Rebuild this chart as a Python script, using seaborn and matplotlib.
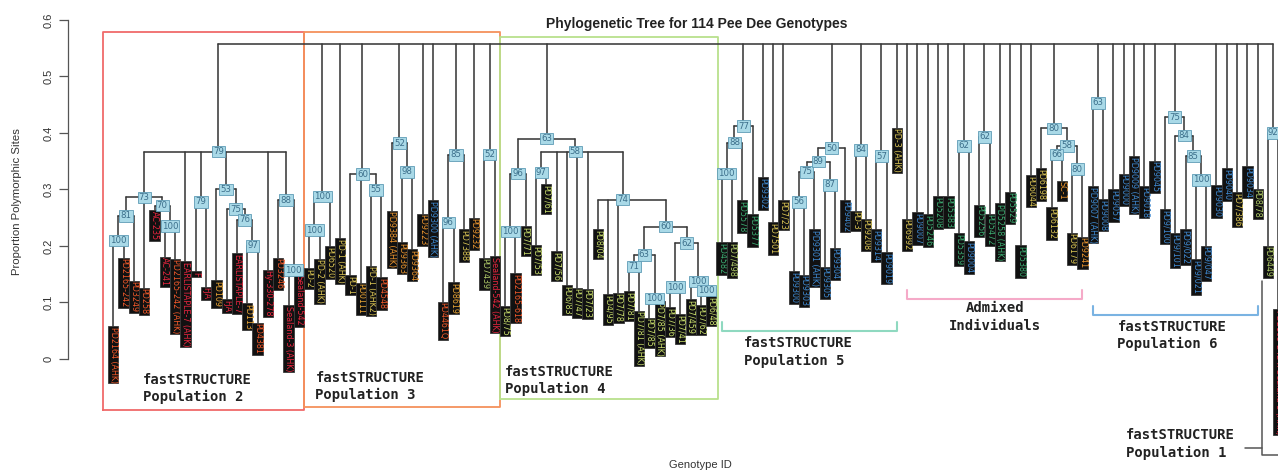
import numpy as np
import pandas as pd
import matplotlib
matplotlib.use("Agg")
import matplotlib.pyplot as plt
import seaborn as sns

sns.set_theme(style="white")
plt.rcParams['font.family'] = ['Liberation Sans', 'DejaVu Sans']

# ---------------- data ----------------
leaf_names = [
    # fastSTRUCTURE population 2
    "PD2164 (AHK)", "PD2165-242", "PD3249", "PD258", "AC-235", "AC-241", "PD2165-242 (AHK)",
    "EARLISTAPLE-7 (AHK)", "F", "FJA", "PD109", "FJA", "EARLISTAPLE-7", "PD113", "PD4381",
    "Hy-330-278", "PD3246", "Sealand-3 (AHK)", "Sealand-542",
    # population 3
    "PD-2", "PD-2 (AHK)", "PD6520", "PD-1 (AHK)", "PD-1", "PD0111", "PD-1 (AHK2)", "PD4548",
    "PD9384 (AHK)", "PD9363", "PD9364", "PD9223", "PD9300 (AHK)", "PD4461Q", "PD8619", "PD7388",
    "PD9232", "PD7439", "Sealand-542 (AHK)",
    # population 4
    "PD8/75", "PD2165-618", "PD7/71", "PD7/53", "PD7/61", "PD7/56", "PD6/83", "PD7/47", "PD7/23",
    "PD8/04", "PD4/95", "PD7/78", "PD7/81", "PD7/81 (AHK)", "PD7/85", "PD7/85 (AHK)", "PD7/36",
    "PD7/41", "PD7/459", "PD7/62", "PD6/48",
    # population 5
    "PD4582", "PD7/498", "PD5578", "PD5377", "PD9302", "PD7501", "PD7/23", "PD9300", "PD9303",
    "PD9301 (AHK)", "PD9305", "PD9304", "PD9402", "PD-3", "PD9208", "PD9314", "PD9019", "PD-3 (AHK)",
    # admixed
    "PD6992", "PD9007", "PD5246", "PD5208", "PD5383", "PD5359", "PD9004", "PD5256", "PD5472",
    "PD5258 (AHK)", "PD5529", "PD5380", "PD6044", "PD6198", "PD6132", "SC-1", "PD6179", "PD9241",
    # population 6
    "PD9007 (AHK)", "PD9008", "PD9057", "PD9000", "PD9009 (AHK)", "PD9018", "PD9045", "PD9/100",
    "PD9/101", "PD9/022", "PD9/021", "PD9/047", "PD9030", "PD9040", "PD7/386", "PD9034", "PD8/78",
    "PD6449",
    # population 1 (cut off at right edge, as in the source figure)
    "PD2165-242 x Sealand-3 (AHK)",
]

leaf_tip = [
    0.057, 0.178, 0.137, 0.125, 0.262, 0.180, 0.176, 0.172, 0.154, 0.127, 0.138, 0.104, 0.186,
    0.098, 0.063, 0.157, 0.178, 0.094, 0.148,
    0.159, 0.176, 0.198, 0.212, 0.147, 0.134, 0.164, 0.143, 0.261, 0.206, 0.193, 0.256, 0.280,
    0.100, 0.135, 0.228, 0.249, 0.178, 0.181,
    0.092, 0.151, 0.234, 0.200, 0.308, 0.190, 0.129, 0.125, 0.123, 0.228, 0.113, 0.116, 0.119,
    0.084, 0.072, 0.101, 0.090, 0.078, 0.104, 0.094, 0.110,
    0.205, 0.205, 0.280, 0.255, 0.320, 0.241, 0.280, 0.154, 0.148, 0.228, 0.162, 0.196, 0.280,
    0.261, 0.247, 0.228, 0.188, 0.408,
    0.247, 0.258, 0.255, 0.287, 0.287, 0.221, 0.207, 0.272, 0.256, 0.274, 0.295, 0.200, 0.324,
    0.336, 0.267, 0.314, 0.222, 0.215,
    0.305, 0.282, 0.299, 0.327, 0.358, 0.305, 0.350, 0.264, 0.221, 0.228, 0.175, 0.199, 0.306,
    0.336, 0.294, 0.340, 0.300, 0.199,
    0.087,
]

leaf_colour = (
    ["O", "O", "O", "O", "R", "R", "O", "R", "R", "R", "Y", "R", "R", "Y", "O", "R", "O", "R", "R"]
    + ["Y2", "Y2", "Y2", "Y2", "Y2", "Y", "Y2", "O", "O2", "O2", "O2", "O2", "B", "O", "Y", "Y2",
       "O2", "YG", "R"]
    + ["G4", "O"] + ["G4"] * 19
    + ["GR", "YG", "GR", "GR", "B", "Y2", "Y2", "B", "B", "B", "B", "B", "B", "Y2", "Y2", "B", "B", "Y2"]
    + ["Y2", "B", "GR", "GR", "GR", "GR", "B", "GR", "GR", "GR", "GR", "GR", "Y2", "Y2", "Y2", "O2",
       "Y2", "O2"]
    + ["B"] * 14 + ["Y2", "B", "YG", "YG"]
    + ["R"]
)

leaf_parent = (
    ["p2_100a", "p2_100a", "p2_81", "p2_73", "p2_70", "p2_100b", "p2_100b", "p2_79", "p2_79b",
     "p2_79b", "p2_53", "p2_75", "p2_76", "p2_97", "p2_97", "p2_79", "p2_88", "p2_100c", "p2_100c"]
    + ["p3_100a", "p3_100a", "p3_100b", "root", "p3_60", "p3_60", "p3_55", "p3_55", "p3_52",
       "p3_98", "p3_98", "root", "root", "p3_96", "p3_96", "p3_85", "root", "p3_52b", "p3_52b"]
    + ["p4_100a", "p4_100a", "p4_96", "p4_97", "p4_97", "p4_58", "p4_58", "p4_58", "p4_58",
       "p4_74", "p4_74", "p4_74", "p4_71", "p4_71", "p4_100b", "p4_100b", "p4_100c", "p4_100c",
       "p4_100d", "p4_100e", "p4_100e"]
    + ["p5_100", "p5_100", "p5_88", "p5_77", "root", "root", "root", "p5_56", "p5_56", "p5_75",
       "p5_87", "p5_87", "p5_50", "p5_84", "p5_84", "p5_57", "p5_57", "root"]
    + ["root", "root", "root", "root", "root", "ad_62a", "ad_62a", "ad_62b", "ad_62b", "root",
       "root", "root", "root", "ad_80", "ad_66", "ad_66", "ad_80b", "ad_80b"]
    + ["p6_63", "p6_63", "root", "root", "root", "root", "root", "p6_75", "p6_84", "p6_85",
       "p6_100", "p6_100", "root", "root", "root", "root", "root", "p1_92"]
    + ["p1_92"]
)

node_names = [
    "root",
    "p2_100a", "p2_81", "p2_73", "p2_70", "p2_100b", "p2_79", "p2_79b", "p2_53", "p2_75", "p2_76",
    "p2_97", "p2_88", "p2_100c",
    "p3_100a", "p3_100b", "p3_60", "p3_55", "p3_52", "p3_98", "p3_85", "p3_96", "p3_52b",
    "p4_63", "p4_96", "p4_100a", "p4_58", "p4_97", "p4_74", "p4_60", "p4_63b", "p4_71", "p4_100b",
    "p4_62", "p4_100c", "p4_100d", "p4_100e",
    "p5_100", "p5_88", "p5_77", "p5_56", "p5_75", "p5_87", "p5_89", "p5_50", "p5_84", "p5_57",
    "ad_62a", "ad_62b", "ad_80", "ad_58", "ad_66", "ad_80b",
    "p6_63", "p6_75", "p6_84", "p6_85", "p6_100", "p1_92",
]
node_parent = [
    None,
    "p2_81", "p2_73", "p2_79", "p2_73", "p2_70", "root", "p2_79", "p2_79", "p2_53", "p2_75",
    "p2_76", "p2_79", "p2_88",
    "p3_100b", "root", "root", "p3_60", "root", "p3_52", "root", "p3_85", "root",
    "root", "p4_63", "p4_96", "p4_63", "p4_58", "p4_58", "p4_74", "p4_60", "p4_63b", "p4_63b",
    "p4_60", "p4_62", "p4_62", "p4_100d",
    "p5_88", "p5_77", "root", "p5_75", "p5_89", "p5_89", "p5_50", "root", "root", "root",
    "root", "root", "root", "ad_80", "ad_58", "ad_58",
    "root", "root", "p6_75", "p6_84", "p6_85", "root",
]
node_height = [
    0.558,
    0.210, 0.253, 0.286, 0.271, 0.235, 0.367, 0.278, 0.300, 0.265, 0.246, 0.200, 0.281, 0.157,
    0.228, 0.287, 0.327, 0.299, 0.382, 0.331, 0.361, 0.241, 0.362,
    0.390, 0.328, 0.225, 0.367, 0.330, 0.282, 0.234, 0.184, 0.164, 0.107, 0.205, 0.127, 0.137, 0.121,
    0.328, 0.383, 0.412, 0.278, 0.331, 0.308, 0.349, 0.373, 0.370, 0.359,
    0.377, 0.393, 0.408, 0.377, 0.362, 0.336,
    0.453, 0.428, 0.395, 0.359, 0.317, 0.400,
]
node_support = [
    None,
    100, 81, 73, 70, 100, 79, 79, 53, 75, 76, 97, 88, 100,
    100, 100, 60, 55, 52, 98, 85, 96, 52,
    63, 96, 100, 58, 97, 74, 60, 63, 71, 100, 62, 100, 100, 100,
    100, 88, 77, 56, 75, 87, 89, 50, 84, 57,
    62, 62, 80, 58, 66, 80,
    63, 75, 84, 85, 100, 92,
]

group_names = ["fastSTRUCTURE\nPopulation 2", "fastSTRUCTURE\nPopulation 3",
               "fastSTRUCTURE\nPopulation 4", "fastSTRUCTURE\nPopulation 5",
               "Admixed\nIndividuals", "fastSTRUCTURE\nPopulation 6",
               "fastSTRUCTURE\nPopulation 1"]
group_first = [0, 19, 38, 59, 77, 95, 112]
group_last = [18, 37, 58, 76, 94, 111, 113]

# ---------------- styles ----------------
label_palette = {"R": "#e8253f", "O": "#f2592a", "Y": "#e9a535", "Y2": "#dcc654",
                 "O2": "#eb952e", "B": "#3f8ad2", "GR": "#3cad72", "G4": "#c9de6c",
                 "YG": "#b3cf6a"}
frame_colours = ["#f06a6a", "#f5915c", "#b9e08c"]
bracket_colours = ["#8fd9c0", "#f5aac8", "#7ab3e2"]
branch_colour = "#3a3a3a"

W, H = 1278, 473
fig = plt.figure(figsize=(W / 100, H / 100), dpi=100)
ax_left_px = 68
ax = fig.add_axes([ax_left_px / W, 0, 1 - ax_left_px / W, 1])
PX0, PXS = 113.3, 10.31           # pixel of leaf 0, pixel spacing per leaf
PY0, PYS = 358.9, 565.0           # pixel of y=0, pixels per unit
ax.set_xlim((ax_left_px - PX0) / PXS, (W - PX0) / PXS)
ax.set_ylim((PY0 - H) / PYS, PY0 / PYS)

# ---------------- tree layout ----------------
children = {n: [] for n in node_names}
xpos, ypos = {}, {}
for i, (p, t) in enumerate(zip(leaf_parent, leaf_tip)):
    key = ("leaf", i)
    children[p].append(key)
    xpos[key] = float(i)
    ypos[key] = t
for n, p, h in zip(node_names, node_parent, node_height):
    ypos[n] = h
    if p is not None:
        children[p].append(n)


def place(n):
    if n in xpos:
        return xpos[n]
    xs = [place(c) for c in children[n]]
    xpos[n] = float(np.mean(xs))
    return xpos[n]


place("root")

rows = []
seg = 0
for n in node_names:
    cx = [xpos[c] for c in children[n]]
    h = ypos[n]
    rows += [(seg, min(cx), h), (seg, max(cx), h)]
    seg += 1
    for c in children[n]:
        rows += [(seg, xpos[c], h), (seg, xpos[c], ypos[c])]
        seg += 1
segs = pd.DataFrame(rows, columns=["seg", "x", "y"])

sns.lineplot(data=segs, x="x", y="y", units="seg", estimator=None, sort=False,
             color=branch_colour, lw=1.15, ax=ax, legend=False, zorder=2)

# leaf labels
for i, (name, tip, ck) in enumerate(zip(leaf_names, leaf_tip, leaf_colour)):
    ax.text(i, tip, name, rotation=270, ha="center", va="top", fontsize=5.8,
            family="DejaVu Sans", color=label_palette[ck], zorder=4,
            bbox=dict(boxstyle="square,pad=0.08", fc="#111111", ec="#3a3a3a", lw=0.6))

# bootstrap support boxes
for n, s in zip(node_names, node_support):
    if s is None:
        continue
    ax.text(xpos[n], ypos[n], str(s), ha="center", va="center", fontsize=6.2,
            family="DejaVu Sans", color="#3b6e8a", zorder=5,
            bbox=dict(boxstyle="square,pad=0.14", fc="#a9d9e7", ec="#5f9cb6", lw=0.6))

# ---------------- population frames & brackets ----------------
mono = dict(family="DejaVu Sans Mono", fontweight="bold", fontsize=10, color="#222222")
frame_top = [0.579, 0.579, 0.570]
frame_bot = [-0.090, -0.085, -0.071]
frame_pad_left = [1.0, 0.5, 0.5]
frame_pad_right = [0.5, 0.5, 0.65]
frame_text_dx = [2.9, 0.6, 0.0]
frame_text_y = [-0.052, -0.049, -0.038]
for k in range(3):
    x0, x1 = group_first[k] - frame_pad_left[k], group_last[k] + frame_pad_right[k]
    y0, y1 = frame_bot[k], frame_top[k]
    ax.plot([x0, x1, x1, x0, x0], [y0, y0, y1, y1, y0], color=frame_colours[k], lw=1.3, zorder=1)
    ax.text(group_first[k] + frame_text_dx[k], frame_text_y[k], group_names[k],
            ha="left", va="center", linespacing=1.3, **mono)

bracket_y = [0.049, 0.106, 0.078]
bracket_text = [(group_first[3] + 2.2, 0.012, "left"),
                (0.5 * (group_first[4] + group_last[4]), 0.074, "center"),
                (group_first[5] + 2.4, 0.041, "left")]
for k in range(3):
    g = k + 3
    x0, x1 = group_first[g], group_last[g]
    yb = bracket_y[k]
    ax.plot([x0, x0, x1, x1], [yb + 0.016, yb, yb, yb + 0.016],
            color=bracket_colours[k], lw=1.5, zorder=1)
    tx, ty, ha = bracket_text[k]
    ax.text(tx, ty, group_names[g], ha=ha, va="center", linespacing=1.3, **mono)

# population 1 pointer (group runs off the right edge)
g = 6
xb = group_first[g] - 0.6
ax.plot([xb, xb, group_last[g] + 1], [0.137, -0.170, -0.170], color="#555555", lw=1.1, zorder=1)
ax.plot([xb - 1.6, xb], [-0.158, -0.158], color="#555555", lw=1.1, zorder=1)
ax.text(group_first[g] - 13.8, -0.151, group_names[g], ha="left", va="center",
        linespacing=1.3, **mono)

# ---------------- axes ----------------
sns.despine(ax=ax, top=True, right=True, bottom=True)
ax.spines["left"].set_bounds(0, 0.6)
ax.spines["left"].set_color("#555555")
ax.spines["left"].set_linewidth(0.9)
yt = [0, 0.1, 0.2, 0.3, 0.4, 0.5, 0.6]
ax.set_yticks(yt)
ax.set_yticklabels(["0", "0.1", "0.2", "0.3", "0.4", "0.5", "0.6"], rotation=90, va="center")
ax.tick_params(axis="y", direction="out", length=6.5, width=0.9, color="#555555",
               labelsize=8, labelcolor="#333333", pad=4, left=True)
ax.set_xticks([])
ax.set_xlabel("")
ax.set_ylabel("")
ax.grid(False)
ax.set_facecolor("white")

fig.text(17 / W, 1 - 202 / H, "Proportion Polymorphic Sites", rotation=90,
         ha="center", va="center", fontsize=8.2, color="#333333")
fig.text(700 / W, 1 - 465 / H, "Genotype ID", ha="center", va="center",
         fontsize=8, color="#333333")
fig.text(697 / W, 1 - 24 / H, "Phylogenetic Tree for 114 Pee Dee Genotypes",
         ha="center", va="center", fontsize=10, fontweight="bold", color="#222222")

fig.savefig("out.png", dpi=100, facecolor="white")
